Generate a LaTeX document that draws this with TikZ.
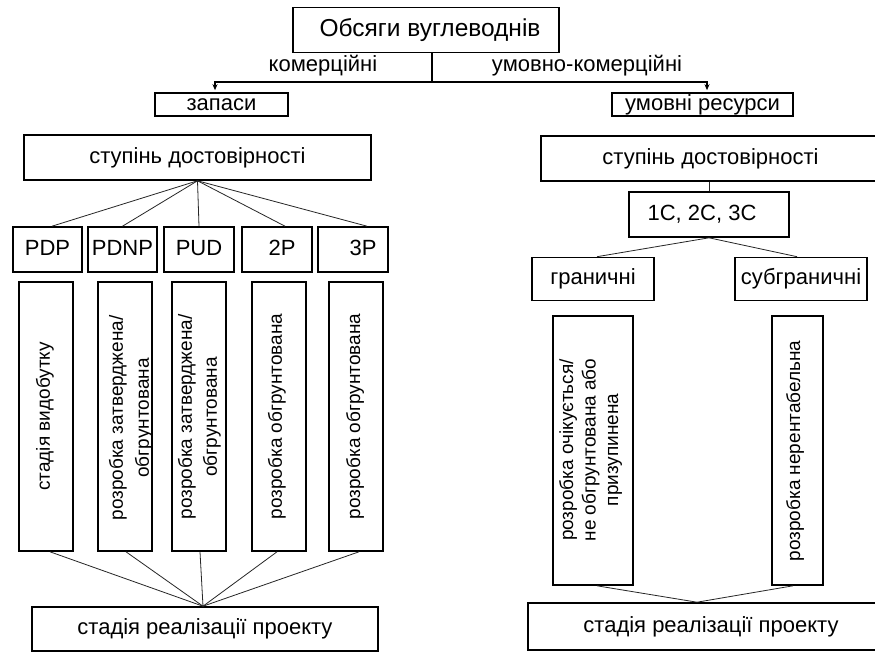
\documentclass[tikz,border=0pt]{standalone}
\usepackage{fontspec}
\setmainfont{Liberation Sans}
\usetikzlibrary{arrows.meta}
\tikzset{
  box/.style={draw, line width=1.6pt, inner sep=0pt, text height=16pt, text depth=4.5pt, font=\fontsize{22}{26}\selectfont},
  vbox/.style={draw, line width=1.6pt, inner sep=0pt, minimum width=#1, minimum height=269pt},
  vtext/.style={rotate=90, align=center, inner sep=0pt, font=\fontsize{19}{23}\selectfont},
  lbl/.style={inner sep=0pt, text height=16pt, text depth=4.5pt, font=\fontsize{22}{26}\selectfont},
  tree/.style={line width=1.3pt},
  thin/.style={line width=0.8pt, black!85},
  tip/.style={-{Stealth[length=6pt,width=5pt]}, shorten >=2pt}
}
\begin{document}
\begin{tikzpicture}[x=1pt,y=-1pt]
\clip (0,0) rectangle (875,652);
\fill[white] (0,0) rectangle (875,652);

% top
\node[box, minimum width=266pt, minimum height=45pt, text height=18pt, text depth=5pt, font=\fontsize{24.5}{28}\selectfont] (title) at (426,30) {\hspace*{8pt}Обсяги вуглеводнів};
\coordinate (j) at (432,82);
\node[box, minimum width=133pt, minimum height=23pt] (zap) at (221.5,104.5) {запаси};
\node[box, minimum width=181pt, minimum height=23pt] (ur) at (702.5,104.5) {умовні ресурси};
\draw[tree] (title.south -| j) -- (j);
\draw[tree, tip] (j) -| ([xshift=-6.5pt]zap.north);
\draw[tree, tip] (j) -| ([xshift=4.5pt]ur.north);
\node[lbl] (lk) at (323,66) {комерційні};
\node[lbl] (lu) at (587,66) {умовно-комерційні};

% left branch
\node[box, minimum width=347pt, minimum height=45pt] (st1) at (197.5,157.5) {ступінь достовірності};
\node[box, minimum width=69pt, minimum height=45pt] (pdp) at (47.5,249.5) {PDP};
\node[box, minimum width=69pt, minimum height=45pt] (pdnp) at (122.5,249.5) {PDNP};
\node[box, minimum width=70pt, minimum height=45pt] (pud) at (199,249.5) {PUD};
\node[box, minimum width=70pt, minimum height=45pt] (p2) at (277,249.5) {\hspace*{10pt}2P};
\node[box, minimum width=70pt, minimum height=45pt] (p3) at (353,249.5) {\hspace*{20pt}3P};
\foreach \t/\s in {pdp/4.5, pdnp/0, pud/0, p2/8, p3/14}
  \draw[thin] (st1.south) -- ([xshift=\s pt]\t.north);

\node[vbox=54pt] (v1) at (46,416.5) {};
\node[vbox=54pt] (v2) at (125,416.5) {};
\node[vbox=54pt] (v3) at (199,416.5) {};
\node[vbox=54pt] (v4) at (279,416.5) {};
\node[vbox=54pt] (v5) at (356,416.5) {};
\node[vtext] (t1) at (45,416.5) {стадія видобутку};
\node[vtext, font=\fontsize{19}{26}\selectfont] (t2) at (131,418) {розробка затверджена/\\обгрунтована};
\node[vtext, font=\fontsize{19}{25}\selectfont] (t3) at (199.5,417) {розробка затверджена/\\обгрунтована};
\node[vtext] (t4) at (277,416.5) {розробка обгрунтована};
\node[vtext] (t5) at (355,416.5) {розробка обгрунтована};

\node[box, minimum width=346pt, minimum height=44pt] (sr1) at (205,629) {стадія реалізації проекту};
\foreach \t/\s in {v1/4, v2/1, v3/1, v4/-2, v5/3}
  \draw[thin] ([xshift=\s pt]\t.south) -- ([xshift=-2pt]sr1.north);

% right branch
\node[box, minimum width=339pt, minimum height=45pt] (st2) at (710.5,158.5) {ступінь достовірності};
\node[box, minimum width=160pt, minimum height=45pt] (c1) at (709,214.5) {1С, 2С, 3С\hspace*{14pt}};
\draw[thin] (st2.south -| c1.north) -- (c1.north);
\node[box, minimum width=122pt, minimum height=43pt] (gr) at (593,279) {граничні};
\node[box, minimum width=132pt, minimum height=43pt] (sg) at (801,279) {субграничні};
\draw[thin] (c1.south) -- ([xshift=4pt]gr.north);
\draw[thin] (c1.south) -- ([xshift=-4pt]sg.north);

\node[vbox=80pt] (va) at (593,450.5) {};
\node[vbox=51pt] (vb) at (797.5,450.5) {};
\node[vtext, font=\fontsize{19}{22.5}\selectfont] (ta) at (590.5,450) {розробка очікується/\\не обгрунтована або\\призупинена};
\node[vtext] (tb) at (795,451) {розробка нерентабельна};

\node[box, minimum width=352pt, minimum height=47pt] (sr2) at (704,626.5) {\hspace*{14pt}стадія реалізації проекту};
\draw[thin] ([xshift=4pt]va.south) -- ([xshift=-7pt]sr2.north);
\draw[thin] ([xshift=-4.5pt]vb.south) -- ([xshift=-7pt]sr2.north);
\end{tikzpicture}
\end{document}
